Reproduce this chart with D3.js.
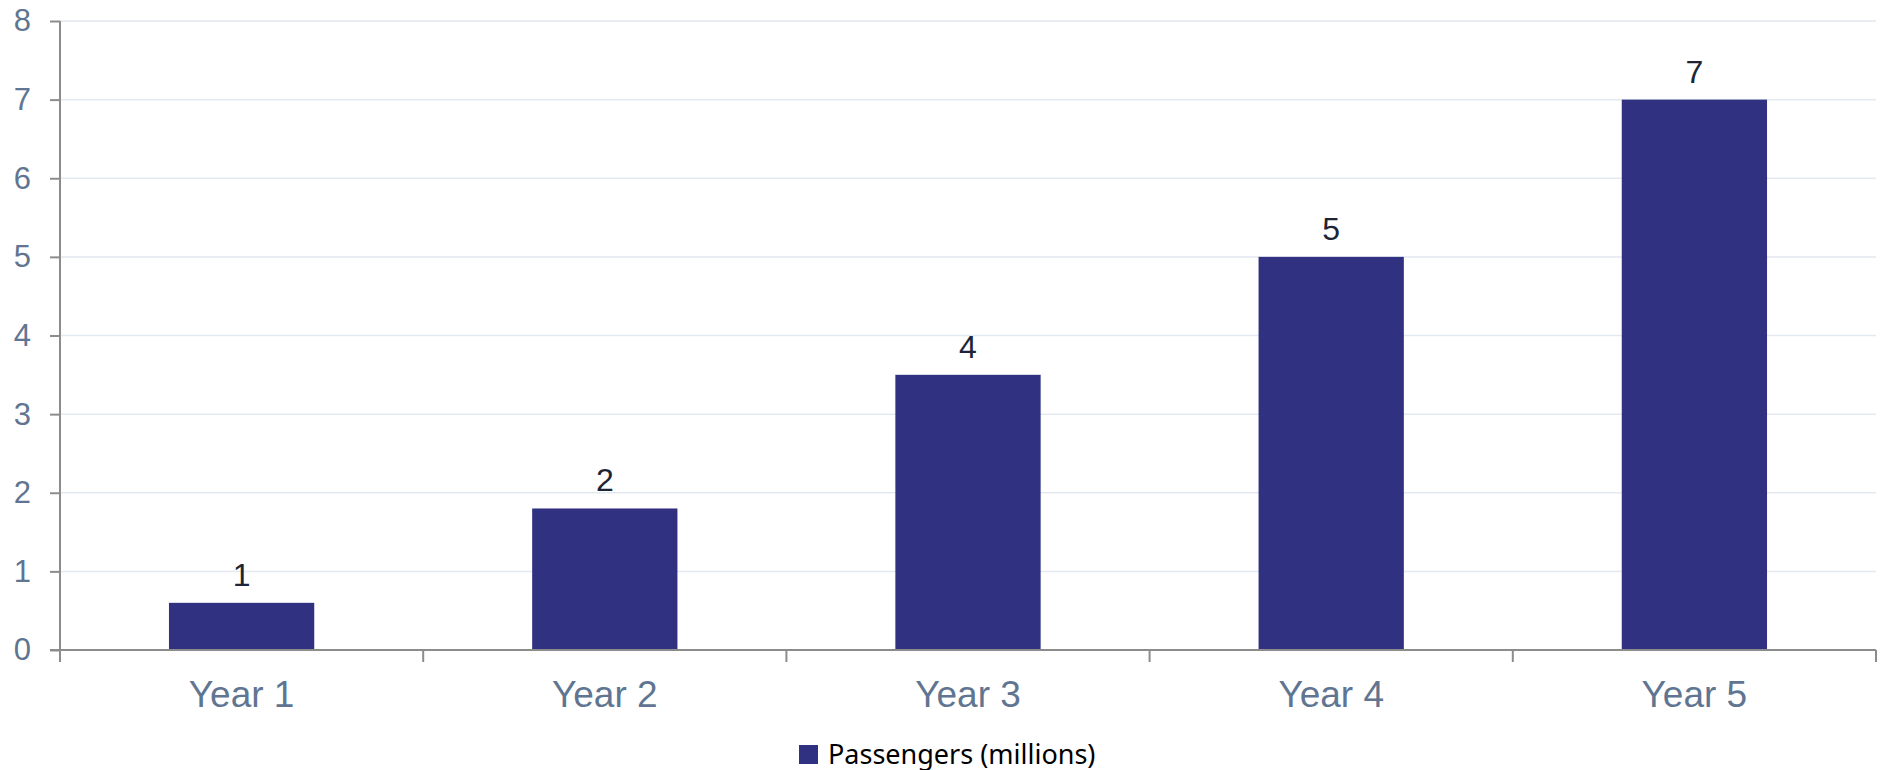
<!DOCTYPE html>
<html>
<head>
<meta charset="utf-8">
<script src="https://cdn.jsdelivr.net/npm/d3@7"></script>
<style>
  body { margin: 0; background: #fff; }
</style>
</head>
<body>
<div id="chart"></div>
<script>
// data
var years = ["Year 1", "Year 2", "Year 3", "Year 4", "Year 5"];
var passengers = [0.6, 1.8, 3.5, 5, 7];
var yTicks = [0, 1, 2, 3, 4, 5, 6, 7, 8];
var seriesName = "Passengers (millions)";

var margin = {top: 21, right: 7, bottom: 120, left: 60},
    width = 1883 - margin.left - margin.right,
    height = 770 - margin.top - margin.bottom;

var svg = d3.select("#chart")
    .append("svg")
    .attr("width", width + margin.left + margin.right)
    .attr("height", height + margin.top + margin.bottom)
    .append("g")
    .attr("transform", "translate(" + margin.left + "," + margin.top + ")");

var x = d3.scaleBand()
    .domain(years)
    .range([0, width])
    .paddingInner(0.6)
    .paddingOuter(0.3);

var y = d3.scaleLinear()
    .domain([0, 8])
    .range([height, 0]);

// gridlines
svg.append("g")
    .selectAll("line")
    .data(yTicks.slice(1))
    .enter()
    .append("line")
    .attr("x1", 0)
    .attr("x2", width)
    .attr("y1", function(d) { return y(d); })
    .attr("y2", function(d) { return y(d); })
    .attr("stroke", "#e3e9f1")
    .attr("stroke-width", 1.5);

// bars
svg.selectAll(".bar")
    .data(passengers)
    .enter()
    .append("rect")
    .attr("class", "bar")
    .attr("x", function(d, i) { return x(years[i]); })
    .attr("width", x.bandwidth())
    .attr("y", function(d) { return y(d); })
    .attr("height", function(d) { return height - y(d); })
    .attr("fill", "#303181");

// value labels
var fmt = d3.format(".0f");
svg.selectAll(".val")
    .data(passengers)
    .enter()
    .append("text")
    .attr("class", "val")
    .attr("x", function(d, i) { return x(years[i]) + x.bandwidth() / 2; })
    .attr("y", function(d) { return y(d) - 17; })
    .attr("text-anchor", "middle")
    .attr("font-family", "Liberation Sans, Arial, sans-serif")
    .attr("font-size", 32)
    .attr("fill", "#1c2435")
    .text(function(d) { return fmt(d); });

// Y axis
var yAxis = svg.append("g")
    .call(d3.axisLeft(y).tickValues(yTicks).tickSize(10).tickPadding(19));
yAxis.selectAll("path, line").attr("stroke", "#8c8c8c").attr("stroke-width", 2);
yAxis.select(".domain").attr("d", "M0," + y(8) + "V" + height);
yAxis.selectAll("text")
    .attr("font-family", "Liberation Sans, Arial, sans-serif")
    .attr("font-size", 31)
    .attr("fill", "#5f7591");

// X axis: line, ticks at band edges, labels at centers
var xg = svg.append("g").attr("transform", "translate(0," + height + ")");
xg.append("line")
    .attr("x1", -10).attr("x2", width)
    .attr("stroke", "#8c8c8c").attr("stroke-width", 2);
var edges = years.map(function(d) { return x(d) - x.step() * x.paddingInner() / 2; });
edges[0] = 0;
edges.push(width);
xg.selectAll(".edge")
    .data(edges)
    .enter()
    .append("line")
    .attr("class", "edge")
    .attr("x1", function(d) { return d; })
    .attr("x2", function(d) { return d; })
    .attr("y1", 0)
    .attr("y2", 12)
    .attr("stroke", "#8c8c8c")
    .attr("stroke-width", 2);
xg.selectAll(".xl")
    .data(years)
    .enter()
    .append("text")
    .attr("class", "xl")
    .attr("x", function(d) { return x(d) + x.bandwidth() / 2; })
    .attr("y", 57)
    .attr("text-anchor", "middle")
    .attr("font-family", "Liberation Sans, Arial, sans-serif")
    .attr("font-size", 37)
    .attr("fill", "#5f7591")
    .text(function(d) { return d; });

// legend
var legend = svg.append("g")
    .attr("transform", "translate(" + (799 - margin.left) + "," + (764 - margin.top) + ")");
legend.append("rect")
    .attr("x", 0)
    .attr("y", -19)
    .attr("width", 19)
    .attr("height", 19)
    .attr("fill", "#303181");
legend.append("text")
    .attr("x", 29)
    .attr("y", 0)
    .attr("font-family", "Noto Sans, Open Sans, sans-serif")
    .attr("font-size", 27)
    .attr("fill", "#000")
    .text(seriesName);
</script>
</body>
</html>
